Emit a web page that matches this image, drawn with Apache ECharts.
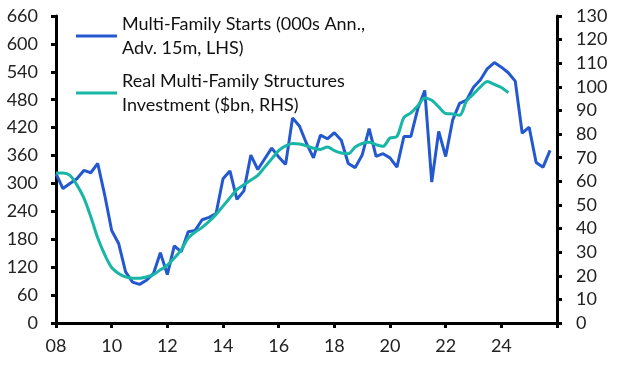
<!DOCTYPE html>
<html>
<head>
<meta charset="utf-8">
<script src="https://cdn.jsdelivr.net/npm/echarts@6/dist/echarts.min.js"></script>
<style>
html,body{margin:0;padding:0;background:#fff;}
#chart{width:618px;height:373px;}
</style>
</head>
<body>
<div id="chart"></div>
<script>
// Quarterly data starting 2008 Q1
var startYear = 2008;
var starts = [
  321, 289, 300, 310,
  328, 323, 343, 275,
  199, 171, 110, 88,
  83, 92, 106, 151,
  104, 166, 153, 196,
  199, 222, 227, 235,
  310, 327, 266, 284,
  361, 330, 353, 376,
  357, 341, 441, 423,
  386, 355, 404, 396,
  409, 393, 343, 334,
  361, 418, 358, 364,
  355, 335, 401, 401,
  461, 500, 303, 412,
  358, 436, 472, 479,
  507, 523, 547, 560,
  550, 538, 520, 408,
  421, 345, 335, 371
];
var investment = [
  63.5, 63.5, 62.5, 58.5,
  53, 45, 36, 29,
  23.5, 21, 19.5, 19,
  19, 19.5, 20.5, 22.5,
  24.5, 27.5, 31, 36,
  38.5, 40.5, 43, 46,
  49.5, 53, 56.5, 58.5,
  60.5, 62.5, 66, 69.5,
  73, 75, 76, 75.8,
  75, 74, 73.5, 74.5,
  73, 72, 71.7, 74.5,
  76, 76.5, 75.5, 74.8,
  78.3, 79, 87, 89,
  92, 95.3, 94.3, 91.5,
  88.7, 88.5, 88, 94,
  97, 100, 102.3, 101,
  99.7, 97.5
];
var xTicks = ['08','10','12','14','16','18','20','22','24'];
var leftTicks = [0,60,120,180,240,300,360,420,480,540,600,660];
var rightTicks = [0,10,20,30,40,50,60,70,80,90,100,110,120,130];
var seriesNames = ['Multi-Family Starts (000s Ann.,\nAdv. 15m, LHS)', 'Real Multi-Family Structures\nInvestment ($bn, RHS)'];

function toPairs(arr){
  return arr.map(function(v,i){ return [startYear + i/4, v]; });
}

var FONT = 'Lato';
var chart = echarts.init(document.getElementById('chart'), null, {renderer:'canvas'});
var axisCommon = {
  axisLine:{show:true, lineStyle:{color:'#000', width:3}},
  axisTick:{show:true, length:5, lineStyle:{color:'#000', width:3}},
  splitLine:{show:false},
  axisLabel:{color:'#222', fontSize:18, fontFamily:FONT}
};
chart.setOption({
  animation:false,
  backgroundColor:'#fff',
  grid:{left:56, right:61, top:16, bottom:50, containLabel:false},
  legend:{
    orient:'vertical', left:76, top:0, itemGap:-15, padding:0,
    itemWidth:41, itemHeight:3, icon:'rect',
    textStyle:{fontSize:18, fontFamily:FONT, color:'#111', lineHeight:24, padding:[24,0,0,0]},
    data:seriesNames
  },
  xAxis:Object.assign({}, axisCommon, {
    type:'value', min:2008, max:2026, interval:2,
    axisLabel:Object.assign({}, axisCommon.axisLabel, {margin:14, formatter:function(v){
      var idx = (v-2008)/2; return xTicks[idx] !== undefined ? xTicks[idx] : '';
    }})
  }),
  yAxis:[
    Object.assign({}, axisCommon, {type:'value', position:'left', min:leftTicks[0], max:leftTicks[leftTicks.length-1], interval:60,
      axisLabel:Object.assign({}, axisCommon.axisLabel, {margin:18})}),
    Object.assign({}, axisCommon, {type:'value', position:'right', min:rightTicks[0], max:rightTicks[rightTicks.length-1], interval:10,
      axisLabel:Object.assign({}, axisCommon.axisLabel, {margin:19})})
  ],
  series:[
    {name:seriesNames[0], type:'line', yAxisIndex:0, data:toPairs(starts), symbol:'none',
     lineStyle:{color:'#2358CF', width:3}, itemStyle:{color:'#2358CF'}, z:2},
    {name:seriesNames[1], type:'line', yAxisIndex:1, data:toPairs(investment), symbol:'none', smooth:0.3,
     lineStyle:{color:'#17B6A6', width:3}, itemStyle:{color:'#17B6A6'}, z:3}
  ]
});
</script>
</body>
</html>
